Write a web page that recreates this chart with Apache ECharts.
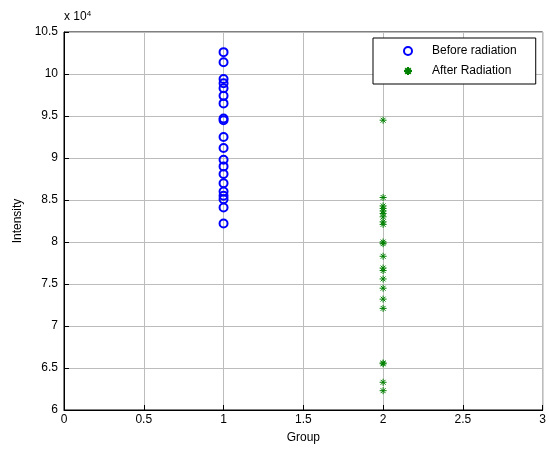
<!DOCTYPE html>
<html><head><meta charset="utf-8">
<script src="https://cdn.jsdelivr.net/npm/echarts@6/dist/echarts.min.js"></script>
<style>html,body{margin:0;padding:0;background:#fff}#c{width:549px;height:450px}</style>
</head><body><div id="c"></div>
<script>
const seriesNames = ['Before radiation', 'After Radiation'];
const beforeGroup = 1;
const beforeValues = [102600, 101400, 99400, 98900, 98300, 97400, 96500, 94700, 94500, 92500, 91200, 89800, 89000, 88100, 87000, 86000, 85500, 85100, 84100, 82200];
const afterGroup = 2;
const afterValues = [94500, 85300, 84300, 84000, 83700, 83400, 83000, 82400, 82100, 80000, 79800, 78300, 76900, 76600, 75600, 74500, 73200, 72100, 65600, 65500, 63300, 62300];
const xTicks = [0, 0.5, 1, 1.5, 2, 2.5, 3];
const yTicks = [60000, 65000, 70000, 75000, 80000, 85000, 90000, 95000, 100000, 105000];

const font = 'Liberation Sans, Arial, sans-serif';
const star = 'path://M0,-5L0,5M-5,0L5,0M-3.5,-3.5L3.5,3.5M-3.5,3.5L3.5,-3.5';
const chart = echarts.init(document.getElementById('c'));
const axisCommon = {
  axisLine: {show: true, onZero: false, lineStyle: {color: '#000', width: 1}},
  axisTick: {show: true, inside: true, length: 5, lineStyle: {color: '#000'}},
  splitLine: {show: true, lineStyle: {color: '#bcbcbc', width: 1, type: 'solid'}},
  axisLabel: {color: '#000', fontFamily: font, fontSize: 12},
  nameTextStyle: {color: '#000', fontFamily: font, fontSize: 12}
};
chart.setOption({
  animation: false,
  backgroundColor: '#fff',
  grid: {left: 64, right: 5, top: 32, bottom: 40, show: true, borderColor: '#000', borderWidth: 1, backgroundColor: 'transparent'},
  xAxis: Object.assign({}, axisCommon, {
    type: 'value', min: xTicks[0], max: xTicks[xTicks.length - 1], interval: 0.5,
    name: 'Group', nameLocation: 'middle', nameGap: 22,
    axisLabel: Object.assign({}, axisCommon.axisLabel, {margin: 4, formatter: v => String(v)})
  }),
  yAxis: Object.assign({}, axisCommon, {
    type: 'value', min: yTicks[0], max: yTicks[yTicks.length - 1], interval: 5000,
    name: 'Intensity', nameLocation: 'middle', nameGap: 38, nameRotate: 90,
    axisLabel: Object.assign({}, axisCommon.axisLabel, {margin: 6, formatter: v => String(v / 10000)})
  }),
  legend: {
    left: 373, top: 38, orient: 'vertical', itemGap: 8,
    padding: [7, 19, 7, 30],
    borderColor: '#000', borderWidth: 1, backgroundColor: '#fff',
    itemWidth: 8, itemHeight: 8,
    textStyle: {color: '#000', fontFamily: font, fontSize: 12, padding: [0, 0, 0, 15]},
    data: seriesNames
  },
  graphic: [{
    type: 'text', left: 64, top: 10,
    style: {text: 'x 10{s|4}', fill: '#000', font: '12px ' + font,
      rich: {s: {fontSize: 8, verticalAlign: 'top', padding: [0, 0, 6, 0], fill: '#000', fontFamily: font}}}
  }],
  series: [{
    name: seriesNames[0], type: 'scatter', symbol: 'circle', symbolSize: 8,
    itemStyle: {color: 'rgba(0,0,0,0)', borderColor: '#0000ff', borderWidth: 2, opacity: 1},
    data: beforeValues.map(v => [beforeGroup, v])
  }, {
    name: seriesNames[1], type: 'scatter', symbol: star, symbolSize: 7,
    itemStyle: {color: 'rgba(0,0,0,0)', borderColor: '#008000', borderWidth: 1, opacity: 1},
    data: afterValues.map(v => [afterGroup, v])
  }]
});
</script></body></html>
